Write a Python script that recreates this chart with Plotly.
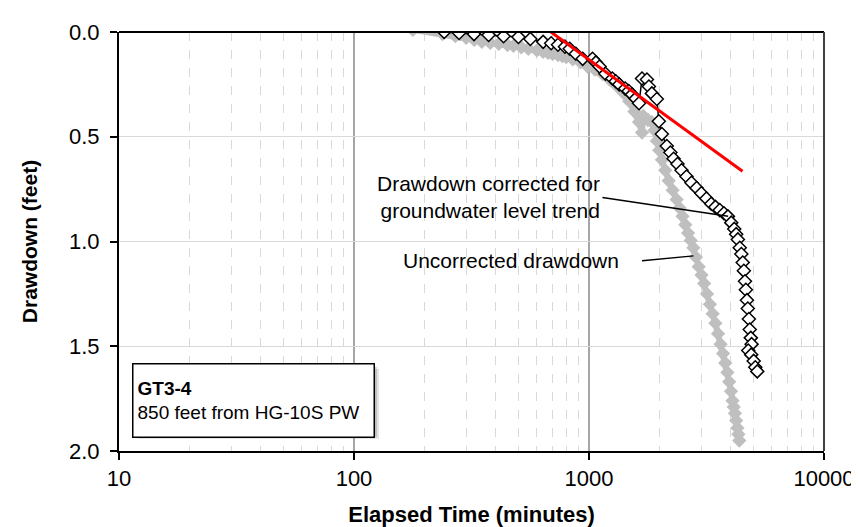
import plotly.graph_objects as go

# Uncorrected drawdown (grey diamonds)
unc_time = [178, 238, 270, 300, 325, 350, 380, 413, 450, 477, 515, 552, 600, 638, 670, 700, 738,
            770, 800, 853, 920, 986, 1060, 1140, 1230, 1319, 1400, 1483, 1560, 1632, 1681, 1700,
            1730, 1780, 1851, 1900, 1944, 1990, 2042, 2110, 2183, 2270, 2360, 2430, 2500, 2570,
            2640, 2710, 2780, 2850, 2930, 3010, 3090, 3180, 3270, 3360, 3450, 3540, 3630, 3720,
            3800, 3880, 3950, 4020, 4080, 4130, 4180, 4230, 4280, 4320, 4360]
unc_dd = [-0.01, 0.01, 0.02, 0.028, 0.038, 0.047, 0.052, 0.057, 0.062, 0.066, 0.073, 0.08, 0.088,
          0.095, 0.10, 0.105, 0.11, 0.115, 0.12, 0.13, 0.145, 0.165, 0.18, 0.2, 0.23, 0.26, 0.29,
          0.33, 0.38, 0.43, 0.48, 0.40, 0.41, 0.42, 0.43, 0.47, 0.52, 0.565, 0.61, 0.66, 0.71,
          0.755, 0.80, 0.84, 0.88, 0.92, 0.96, 0.995, 1.03, 1.075, 1.12, 1.16, 1.20, 1.25, 1.30,
          1.345, 1.39, 1.44, 1.49, 1.535, 1.58, 1.625, 1.67, 1.715, 1.76, 1.79, 1.82, 1.855, 1.89,
          1.92, 1.95]

# Drawdown corrected for groundwater level trend (white diamonds)
cor_time = [242, 280, 324, 374, 433, 501, 563, 638, 690, 738, 790, 828, 879, 940, 1035, 1070,
            1109, 1175, 1257, 1300, 1345, 1426, 1475, 1525, 1580, 1633, 1681, 1764, 1799, 1851,
            1944, 1982, 2042, 2143, 2220, 2291, 2380, 2476, 2600, 2729, 2870, 3006, 3160, 3313,
            3450, 3600, 3750, 3900, 4030, 4150, 4230, 4300, 4380, 4450, 4510, 4560, 4610, 4650,
            4700, 4740, 4790, 4830, 4880, 4920, 4760, 4900, 5020, 5100, 5200]
cor_dd = [0.0, 0.005, 0.01, 0.014, 0.02, 0.024, 0.033, 0.047, 0.054, 0.061, 0.07, 0.08, 0.104,
          0.128, 0.128, 0.145, 0.165, 0.199, 0.222, 0.235, 0.25, 0.27, 0.282, 0.298, 0.318, 0.34,
          0.222, 0.227, 0.26, 0.293, 0.32, 0.426, 0.487, 0.544, 0.575, 0.605, 0.63, 0.66, 0.69,
          0.72, 0.745, 0.77, 0.795, 0.82, 0.835, 0.85, 0.865, 0.88, 0.91, 0.94, 0.965, 0.99,
          1.03, 1.06, 1.10, 1.14, 1.19, 1.23, 1.28, 1.32, 1.37, 1.42, 1.46, 1.49, 1.52, 1.54,
          1.57, 1.60, 1.62]

# Straight-line fit (red)
fit_time = [689, 4500]
fit_dd = [0.0, 0.665]

x_ticks = [10, 100, 1000, 10000]
y_ticks = [0.0, 0.5, 1.0, 1.5, 2.0]

FONT = "Liberation Sans, Arial, sans-serif"

fig = go.Figure()
fig.add_trace(go.Scatter(
    x=unc_time, y=unc_dd, mode="lines+markers",
    line=dict(color="#bfbfbf", width=6),
    marker=dict(symbol="diamond", size=11, color="#bfbfbf", line=dict(width=0)),
    showlegend=False, hoverinfo="skip"))
fig.add_trace(go.Scatter(
    x=cor_time, y=cor_dd, mode="lines+markers",
    line=dict(color="black", width=1.5),
    marker=dict(symbol="diamond", size=10, color="white", line=dict(color="black", width=1.5)),
    showlegend=False, hoverinfo="skip"))
fig.add_trace(go.Scatter(
    x=fit_time, y=fit_dd, mode="lines",
    line=dict(color="#ff0000", width=3),
    showlegend=False, hoverinfo="skip"))

fig.update_layout(
    width=859, height=527,
    margin=dict(l=111, r=35, t=20, b=84),
    paper_bgcolor="white", plot_bgcolor="white",
    font=dict(family=FONT, size=22, color="black"),
    xaxis=dict(
        type="log", range=[1, 4],
        tickvals=x_ticks, ticktext=[str(v) for v in x_ticks],
        ticks="outside", ticklen=7, tickwidth=1.5, tickcolor="black",
        showline=True, linecolor="black", linewidth=2, mirror=False,
        showgrid=True, gridcolor="#a6a6a6", gridwidth=1.5,
        minor=dict(dtick="D1", showgrid=True, gridcolor="#d9d9d9", griddash="dash", gridwidth=1.2,
                   ticks=""),
        ticklabelstandoff=0,
        title=dict(text="<b>Elapsed Time (minutes)</b>", font=dict(size=22), standoff=16),
        zeroline=False,
    ),
    yaxis=dict(
        range=[2.0, 0.0],
        tickvals=y_ticks, tickformat=".1f",
        ticks="outside", ticklen=7, tickwidth=1.5, tickcolor="black",
        showline=True, linecolor="black", linewidth=2,
        showgrid=True, gridcolor="#d9d9d9", gridwidth=1.2,
        ticklabelstandoff=6,
        title=dict(text="<b>Drawdown (feet)</b>", font=dict(size=21), standoff=26),
        zeroline=False,
    ),
)

# plot frame top/right
fig.add_shape(type="line", xref="paper", yref="paper", x0=0, x1=1, y0=1, y1=1,
              line=dict(color="black", width=2))
fig.add_shape(type="line", xref="paper", yref="paper", x0=1, x1=1, y0=0, y1=1,
              line=dict(color="#404040", width=2))

# leader lines
fig.add_shape(type="line", xref="paper", yref="paper", x0=0.6858, y0=0.6052, x1=0.864, y1=0.5603,
              line=dict(color="black", width=1.5))
fig.add_shape(type="line", xref="paper", yref="paper", x0=0.7419, y0=0.4539, x1=0.8149, y1=0.4657,
              line=dict(color="black", width=1.5))

# shadow of info box
for i, a in enumerate([0.10, 0.15, 0.2]):
    off = 6 - 2 * i
    fig.add_shape(type="rect", xref="paper", yref="paper",
                  x0=0.018 + (off) / 713, x1=0.3605 + (off) / 713,
                  y0=0.0426 - off / 423, y1=0.21 - off / 423,
                  line=dict(width=0), fillcolor=f"rgba(0,0,0,{a})")

fig.add_annotation(xref="paper", yref="paper", x=0.6858, y=0.6052, xanchor="right", yanchor="middle",
                   text="Drawdown corrected for<br>groundwater level trend", showarrow=False,
                   align="right", font=dict(size=21))
fig.add_annotation(xref="paper", yref="paper", x=0.712, y=0.4539, xanchor="right", yanchor="middle",
                   text="Uncorrected drawdown", showarrow=False, font=dict(size=21))
fig.add_annotation(xref="paper", yref="paper", x=0.018, y=0.21, xanchor="left", yanchor="top",
                   text="<b>GT3-4</b><br>850 feet from HG-10S PW", showarrow=False,
                   align="left", valign="middle", width=232, height=64, borderpad=4,
                   bgcolor="white", bordercolor="black", borderwidth=1.5, font=dict(size=19))

fig.write_html("out.html")
